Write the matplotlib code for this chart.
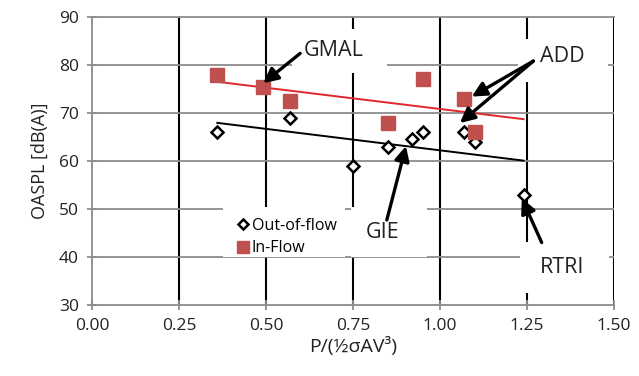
import numpy as np
import matplotlib
matplotlib.use("Agg")
import matplotlib.pyplot as plt
from matplotlib.patches import Rectangle

# out-of-flow measurements
out_x = [0.36, 0.57, 0.75, 0.85, 0.92, 0.95, 1.07, 1.10, 1.24]
out_y = [66, 69, 59, 63, 64.5, 66, 66, 64, 53]
# in-flow measurements
in_x = [0.36, 0.49, 0.57, 0.85, 0.95, 1.07, 1.10]
in_y = [78, 75.5, 72.5, 68, 77, 73, 66]

x_ticks = [0.0, 0.25, 0.5, 0.75, 1.0, 1.25, 1.5]
y_ticks = [30, 40, 50, 60, 70, 80, 90]

plt.rcParams['font.family'] = ['Open Sans', 'DejaVu Sans']

fig = plt.figure(figsize=(6.39, 3.76), dpi=100)
ax = fig.add_axes([0.144, 0.189, 0.817, 0.766])
ax.set_xlim(0, 1.5)
ax.set_ylim(30, 90)

# grid: black verticals, grey horizontals
for xv in x_ticks[1:]:
    ax.axvline(xv, color='black', lw=1.5, zorder=0.5)
for yv in y_ticks[1:-1]:
    ax.axhline(yv, color='#8c8c8c', lw=1.3, zorder=0.5)

for s in ['left', 'bottom', 'top']:
    ax.spines[s].set_color('#8c8c8c')
    ax.spines[s].set_linewidth(1.3)
ax.spines['right'].set_visible(False)

ax.set_xticks(x_ticks)
ax.set_yticks(y_ticks)
ax.set_xticklabels(['%.2f' % v for v in x_ticks])
ax.tick_params(direction='inout', length=7, width=1.3, color='#8c8c8c',
               labelsize=12.5, labelcolor='#222222', pad=6)

# white text boxes of the annotations hide the grid
boxes = [(0.575, 78.3, 0.273, 9.2), (1.224, 76.5, 0.259, 8.9),
         (1.23, 32.5, 0.256, 10.6), (0.744, 40.0, 0.219, 10.4),
         (0.376, 40.0, 0.351, 10.4)]
for bx, by, bw, bh in boxes:
    ax.add_patch(Rectangle((bx, by), bw, bh, facecolor='white',
                           edgecolor='none', zorder=1))

# linear trendlines
xs = np.array([min(out_x + in_x), max(out_x + in_x)])
p_out = np.polyfit(out_x, out_y, 1)
p_in = np.polyfit(in_x, in_y, 1)
ax.plot(xs, np.polyval(p_in, xs), color='#e0262a', lw=1.4, zorder=2)
ax.plot(xs, np.polyval(p_out, xs), color='black', lw=1.4, zorder=2)

ax.plot(out_x, out_y, 'D', ms=6.5, mfc='white', mec='black', mew=1.8,
        ls='none', label='Out-of-flow', zorder=3)
ax.plot(in_x, in_y, 's', ms=10, color='#c0504d', ls='none',
        label='In-Flow', zorder=3)

leg = ax.legend(loc='upper left', bbox_to_anchor=(0.262, 0.325), frameon=False,
                fontsize=11.5, handletextpad=0.05, handlelength=1.0,
                labelspacing=0.4, borderaxespad=0, markerscale=0.8)
leg.set_zorder(4)

arrow = dict(arrowstyle='-|>', color='black', lw=2.4, mutation_scale=22,
             shrinkA=0, shrinkB=0)
tfont = dict(fontsize=15.5, color='#222222', ha='center', va='center', zorder=5)

ax.annotate('', xy=(0.492, 76.2), xytext=(0.598, 82.4), arrowprops=arrow, zorder=5)
ax.text(0.693, 83.1, 'GMAL', **tfont)

ax.annotate('', xy=(1.091, 73.4), xytext=(1.268, 80.8), arrowprops=arrow, zorder=5)
ax.annotate('', xy=(1.057, 67.9), xytext=(1.268, 80.8), arrowprops=arrow, zorder=5)
ax.text(1.351, 81.7, 'ADD', **tfont)

ax.annotate('', xy=(0.902, 63.1), xytext=(0.847, 47.7), arrowprops=arrow, zorder=5)
ax.text(0.836, 45.0, 'GIE', **tfont)

ax.annotate('', xy=(1.235, 52.2), xytext=(1.292, 43.0), arrowprops=arrow, zorder=5)
ax.text(1.351, 37.7, 'RTRI', **tfont)

ax.set_xlabel('P/(½σAV³)', fontsize=14, color='#222222', labelpad=2)
ax.set_ylabel('OASPL [dB(A)]', fontsize=13, color='#222222', labelpad=7)

fig.savefig('out.png', dpi=100)
plt.close()
